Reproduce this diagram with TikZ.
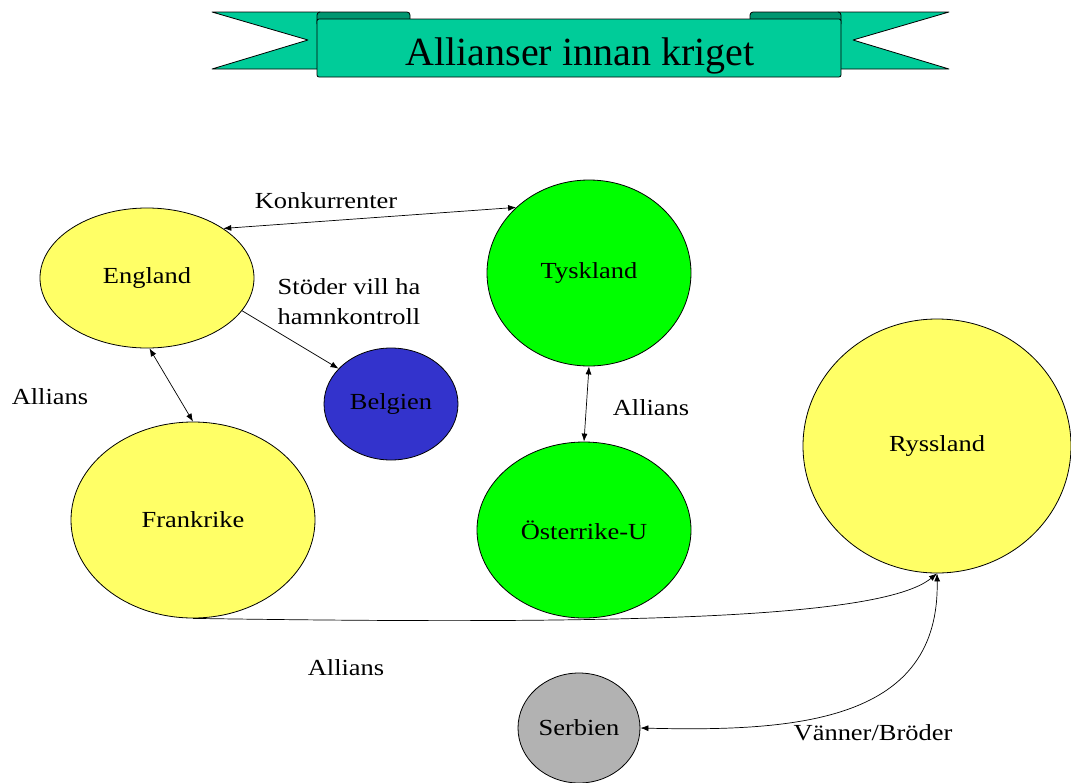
\documentclass[tikz,border=0pt]{standalone}
\usepackage{fontspec}
\setmainfont{Liberation Serif}[FakeStretch=1.15]
\newfontfamily\titlefont{Liberation Serif}
\usetikzlibrary{shapes.geometric,arrows.meta}
\definecolor{nyellow}{RGB}{255,255,102}
\definecolor{ngreen}{RGB}{0,255,0}
\definecolor{nblue}{RGB}{51,51,204}
\definecolor{ngrey}{RGB}{178,178,178}
\definecolor{bannerc}{RGB}{0,204,153}
\definecolor{bannerd}{RGB}{0,150,112}
\begin{document}
\begin{tikzpicture}[x=1pt,y=-1pt,
  country/.style={ellipse,draw=black,line width=0.8pt,inner sep=0pt,
    font=\fontsize{23}{27}\selectfont},
  lbl/.style={font=\fontsize{23}{30}\selectfont,inner sep=0pt},
  conn/.style={line width=0.7pt},
  tp/.tip={Latex[length=8pt,width=6pt]},
  ribbon/.style={draw=black,line width=0.8pt,fill=bannerc,line join=round}]
\useasboundingbox (0,0) rectangle (1071,782);
% banner
\draw[ribbon] (212,12) -- (320,12) -- (320,69) -- (212,69) -- (308,40) -- cycle;
\draw[ribbon] (949,12) -- (838,12) -- (838,69) -- (949,69) -- (853,40) -- cycle;
\draw[ribbon,fill=bannerd,rounded corners=3pt] (317,24) -- (317,12) -- (410,12) -- (410,24);
\draw[ribbon,fill=bannerd,rounded corners=3pt] (750,24) -- (750,12) -- (841,12) -- (841,24);
\draw[ribbon,rounded corners=2pt] (317,19) rectangle (841,77);
\node[anchor=base,inner sep=0pt,font=\titlefont\fontsize{40}{44}\selectfont] (title) at (580,65) {Allianser innan kriget};
% countries
\node[country,fill=nyellow,minimum width=214pt,minimum height=140pt] (England) at (147,278) {England};
\node[country,fill=nblue,minimum width=134pt,minimum height=112pt] (Belgien) at (391,404) {Belgien};
\node[country,fill=nyellow,minimum width=244pt,minimum height=196pt] (Frankrike) at (193,520) {Frankrike};
\node[country,fill=ngreen,minimum width=204pt,minimum height=186pt] (Tyskland) at (589,273) {Tyskland};
\node[country,fill=ngreen,minimum width=214pt,minimum height=176pt] (Osterrike) at (584,530) {Österrike-U};
\node[country,fill=nyellow,minimum width=268pt,minimum height=254pt] (Ryssland) at (937,446) {Ryssland};
\node[country,fill=ngrey,minimum width=122pt,minimum height=110pt] (Serbien) at (579,728) {Serbien};
% labels
\node[lbl] (konk) at (326,201) {Konkurrenter};
\node[lbl,align=left] (stod) at (349,302) {Stöder vill ha\\hamnkontroll};
\node[lbl] (all1) at (50,397) {Allians};
\node[lbl] (all2) at (651,408) {Allians};
\node[lbl] (all3) at (346,668) {Allians};
\node[lbl] (van) at (873,733) {Vänner/Bröder};
% connectors
\draw[conn,tp-tp] (England.33) -- (Tyskland.138);
\draw[conn,-tp] (England.341) -- (Belgien.146);
\draw[conn,tp-tp] (England.272) -- (Frankrike.north);
\draw[conn,tp-tp] (Tyskland.south) -- (Osterrike.north);
\draw[conn,-tp] (Frankrike.south) .. controls +(407,6) and +(-57,47) .. (Ryssland.south);
\draw[conn,tp-tp] (Ryssland.south) .. controls +(3,147) and +(160,4) .. (Serbien.east);
\end{tikzpicture}
\end{document}
